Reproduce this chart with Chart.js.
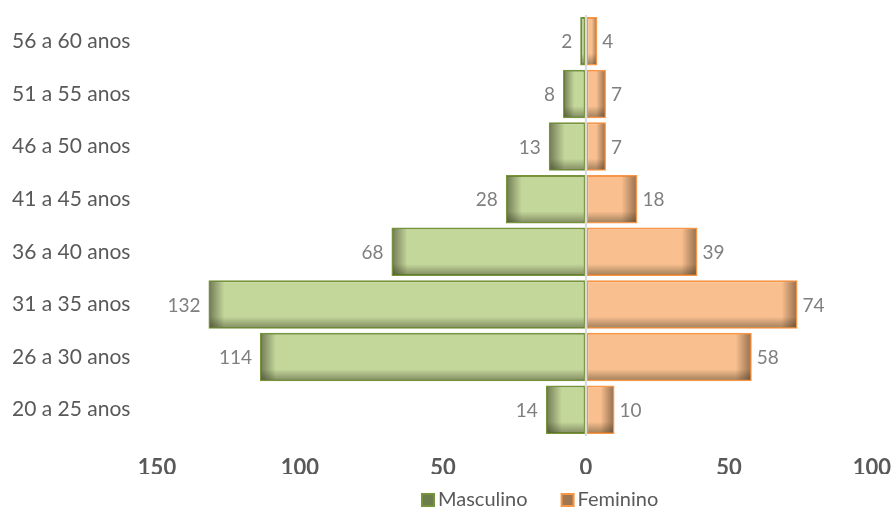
<!DOCTYPE html>
<html>
<head>
<meta charset="utf-8">
<script src="https://cdn.jsdelivr.net/npm/chart.js@4/dist/chart.umd.min.js"></script>
<style>
  html, body { margin: 0; padding: 0; background: #fff; }
  #wrap { width: 891px; height: 509px; }
</style>
</head>
<body>
<div id="wrap"><canvas id="myChart"></canvas></div>
<script>
// faixas etárias (de cima para baixo)
const faixas = ['56 a 60 anos', '51 a 55 anos', '46 a 50 anos', '41 a 45 anos',
                '36 a 40 anos', '31 a 35 anos', '26 a 30 anos', '20 a 25 anos'];
const masculino = [2, 8, 13, 28, 68, 132, 114, 14];
const feminino = [4, 7, 7, 18, 39, 74, 58, 10];
const eixoX = [-150, -100, -50, 0, 50, 100];

// sombra interna nas barras (efeito do Excel)
const innerShadow = {
    id: 'innerShadow',
    afterDatasetsDraw(chart) {
        const ctx = chart.ctx;
        chart.data.datasets.forEach((ds, i) => {
            chart.getDatasetMeta(i).data.forEach(bar => {
                const left = Math.min(bar.x, bar.base);
                const right = Math.max(bar.x, bar.base);
                const top = bar.y - bar.height / 2;
                const bottom = bar.y + bar.height / 2;
                const w = right - left;
                const h = bottom - top;
                ctx.save();
                ctx.beginPath();
                ctx.rect(left + 1.5, top + 1.5, w - 3, h - 3);
                ctx.clip();
                const d = Math.min(16, w / 2);
                let g;
                if (bar.x < bar.base) {
                    g = ctx.createLinearGradient(left, 0, left + d, 0);
                    g.addColorStop(0, 'rgba(40,40,20,0.55)');
                    g.addColorStop(1, 'rgba(40,40,20,0)');
                    ctx.fillStyle = g;
                    ctx.fillRect(left, top, d, h);
                } else {
                    g = ctx.createLinearGradient(right, 0, right - d, 0);
                    g.addColorStop(0, 'rgba(60,40,20,0.55)');
                    g.addColorStop(1, 'rgba(60,40,20,0)');
                    ctx.fillStyle = g;
                    ctx.fillRect(right - d, top, d, h);
                }
                const dh = Math.min(12, h / 3);
                g = ctx.createLinearGradient(0, bottom, 0, bottom - dh);
                g.addColorStop(0, 'rgba(40,40,20,0.45)');
                g.addColorStop(1, 'rgba(40,40,20,0)');
                ctx.fillStyle = g;
                ctx.fillRect(left, bottom - dh, w, dh);
                ctx.restore();
            });
        });
        // linha do zero por cima das barras
        const x0 = chart.scales.x.getPixelForValue(0);
        ctx.save();
        ctx.strokeStyle = '#d9d9d9';
        ctx.lineWidth = 2;
        ctx.beginPath();
        ctx.moveTo(x0, chart.chartArea.top);
        ctx.lineTo(x0, chart.chartArea.bottom);
        ctx.stroke();
        ctx.restore();
    }
};

// rótulos de dados
const dataLabels = {
    id: 'dataLabels',
    afterDatasetsDraw(chart) {
        const ctx = chart.ctx;
        ctx.save();
        ctx.font = '19px Lato';
        ctx.fillStyle = '#7f7f7f';
        ctx.textBaseline = 'middle';
        chart.data.datasets.forEach((ds, i) => {
            chart.getDatasetMeta(i).data.forEach((bar, j) => {
                const v = ds.data[j];
                if (v < 0) {
                    ctx.textAlign = 'right';
                    ctx.fillText(Math.abs(v), bar.x - 8, bar.y + 1);
                } else {
                    ctx.textAlign = 'left';
                    ctx.fillText(v, bar.x + 5, bar.y + 1);
                }
            });
        });
        ctx.restore();
    }
};

// legenda desenhada à mão (a do Chart.js ocupa espaço demais)
const legendaCaixas = ['#6b7d4c', '#a07550'];
const bottomLegend = {
    id: 'bottomLegend',
    afterDraw(chart) {
        const ctx = chart.ctx;
        ctx.save();
        ctx.font = '20px Lato';
        ctx.textBaseline = 'middle';
        ctx.textAlign = 'left';
        let x = 422;
        const y = 500;
        chart.data.datasets.forEach((ds, i) => {
            ctx.fillStyle = legendaCaixas[i];
            ctx.fillRect(x, y - 6, 12, 12);
            ctx.strokeStyle = ds.borderColor;
            ctx.lineWidth = 2;
            ctx.strokeRect(x, y - 6, 12, 12);
            ctx.fillStyle = '#595959';
            ctx.fillText(ds.label, x + 16, y);
            x += 16 + ctx.measureText(ds.label).width + 34;
        });
        ctx.restore();
    }
};

new Chart(document.getElementById('myChart'), {
    type: 'bar',
    data: {
        labels: faixas,
        datasets: [
            {
                label: 'Masculino',
                data: masculino.map(v => -v),
                backgroundColor: '#c4d79b',
                borderColor: '#77933c',
                borderWidth: 2,
                borderSkipped: false
            },
            {
                label: 'Feminino',
                data: feminino,
                backgroundColor: '#f9bf8f',
                borderColor: '#f79646',
                borderWidth: 2,
                borderSkipped: false
            }
        ]
    },
    plugins: [innerShadow, dataLabels, bottomLegend],
    options: {
        indexAxis: 'y',
        responsive: true,
        maintainAspectRatio: false,
        animation: false,
        barPercentage: 0.92,
        categoryPercentage: 1,
        layout: { padding: { left: 12, right: 0, top: 15, bottom: 35 } },
        plugins: {
            tooltip: { enabled: false },
            legend: { display: false }
        },
        scales: {
            x: {
                stacked: true,
                min: eixoX[0],
                max: eixoX[eixoX.length - 1],
                afterBuildTicks(axis) {
                    axis.ticks = eixoX.map(v => ({ value: v }));
                },
                afterFit(axis) { axis.height = 38; },
                grid: {
                    display: true,
                    drawOnChartArea: false,
                    drawTicks: true,
                    tickLength: 19,
                    color: 'rgba(0,0,0,0)'
                },
                border: { display: false },
                ticks: {
                    padding: 0,
                    maxRotation: 0,
                    color: '#595959',
                    font: { family: 'Lato', size: 22, weight: 'bold' },
                    callback: v => Math.abs(v)
                }
            },
            y: {
                stacked: true,
                grid: { display: false, drawTicks: false },
                border: { display: false },
                afterFit(axis) { axis.width = 145; },
                ticks: {
                    crossAlign: 'far',
                    padding: 0,
                    color: '#595959',
                    font: { family: 'Lato', size: 21 }
                }
            }
        }
    }
});
</script>
</body>
</html>
